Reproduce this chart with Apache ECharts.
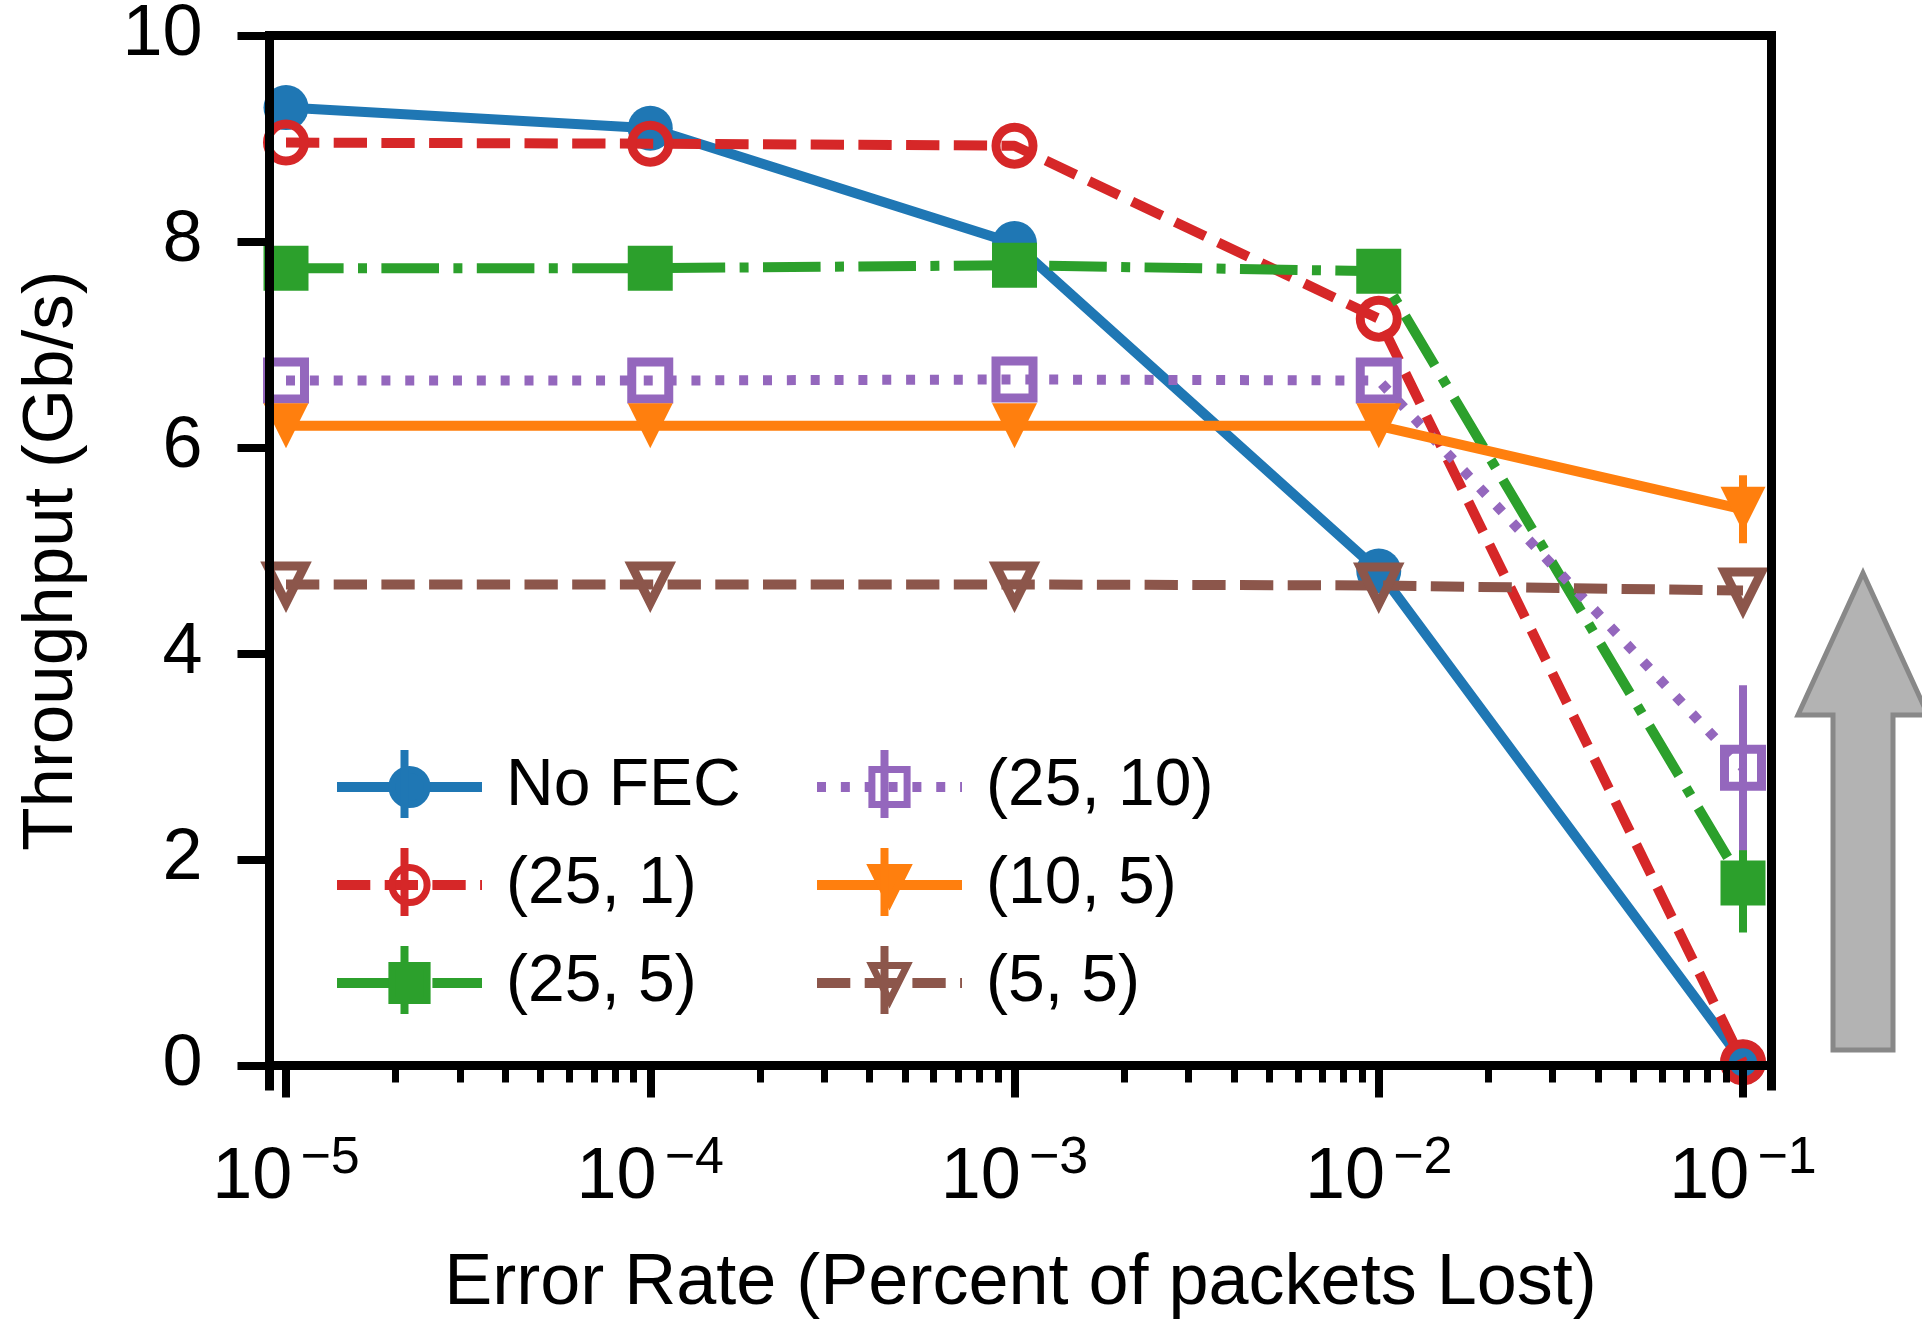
<!DOCTYPE html>
<html><head><meta charset="utf-8">
<script src="https://cdn.jsdelivr.net/npm/echarts@6/dist/echarts.min.js"></script>
<style>html,body{margin:0;padding:0;background:#fff;}#c{width:1922px;height:1321px;}</style>
</head><body><div id="c"></div>
<script>
// ---- data ----
const errorRates = [1e-5, 1e-4, 1e-3, 1e-2, 1e-1];
const seriesNames = ['No FEC', '(25, 1)', '(25, 5)', '(25, 10)', '(10, 5)', '(5, 5)'];
const noFEC   = [9.30, 9.10, 7.98, 4.80, 0.03];
const fec25_1 = [8.96, 8.95, 8.93, 7.25, 0.03];
const fec25_5 = [7.74, 7.74, 7.77, 7.71, 1.77];
const fec25_10 = [6.65, 6.65, 6.66, 6.65, 2.89];
const fec10_5 = [6.21, 6.21, 6.21, 6.21, 5.40];
const fec5_5  = [4.67, 4.67, 4.67, 4.66, 4.61];
// half-width of error bars
const errNoFEC   = [0, 0, 0, 0, 0];
const err25_1    = [0, 0, 0, 0, 0];
const err25_5    = [0, 0, 0, 0, 0.48];
const err25_10   = [0, 0, 0, 0, 0.80];
const err10_5    = [0, 0, 0, 0, 0.33];
const err5_5     = [0, 0, 0, 0, 0];
const xTickValues = [1e-5, 1e-4, 1e-3, 1e-2, 1e-1];
const yTickValues = [0, 2, 4, 6, 8, 10];
const xAxisTitle = 'Error Rate (Percent of packets Lost)';
const yAxisTitle = 'Throughput (Gb/s)';

// ---- styles ----
const FONT = '"Liberation Sans", Arial, Helvetica, sans-serif';
const values = [noFEC, fec25_1, fec25_5, fec25_10, fec10_5, fec5_5];
const errors = [errNoFEC, err25_1, err25_5, err25_10, err10_5, err5_5];
const colors = ['#1f77b4', '#d62728', '#2ca02c', '#9467bd', '#ff7f0e', '#8c564b'];
const LW = 10;
const dashes = ['solid', [33.3, 14.4], [57.6, 14.4, 9, 14.4], [9, 14.85], 'solid', [33.3, 14.4]];
const triDown = 'path://M0,0 L2,0 L1,2 Z';
const symbols = ['circle', 'circle', 'rect', 'rect', triDown, triDown];
const filled = [true, false, true, false, true, false];

const xMin = Math.pow(10, -5.0453), xMax = Math.pow(10, -0.92176);
const minorTicks = [];
for (let k = -6; k <= -1; k++) for (let m = 2; m <= 9; m++) {
  const v = m * Math.pow(10, k);
  if (v >= xMin && v <= xMax) minorTicks.push(v);
}

const series = [];
values.forEach((vals, i) => {
  const c = colors[i];
  series.push({
    type: 'custom', name: seriesNames[i] + ' err', z: 10 + i, silent: true,
    data: errorRates.map((x, j) => [x, vals[j] - errors[i][j], vals[j] + errors[i][j]]),
    encode: { x: 0, y: [1, 2] },
    renderItem: (params, api) => {
      const lo = api.value(1), hi = api.value(2);
      if (hi - lo <= 0) return null;
      const p1 = api.coord([api.value(0), lo]);
      const p2 = api.coord([api.value(0), hi]);
      return { type: 'line', shape: { x1: p1[0], y1: p1[1], x2: p2[0], y2: p2[1] },
               style: { stroke: c, lineWidth: 8 } };
    }
  });
  series.push({
    type: 'line', name: seriesNames[i], z: 10 + i,
    data: errorRates.map((x, j) => [x, vals[j]]),
    symbol: symbols[i],
    symbolSize: filled[i] ? 45 : 37,
    showAllSymbol: true,
    lineStyle: { color: c, width: LW, type: dashes[i] },
    itemStyle: filled[i] ? { color: c, borderColor: c, borderWidth: 0 }
                         : { color: 'rgba(255,255,255,0)', borderColor: c, borderWidth: 9 },
    emphasis: { disabled: true },
    clip: true
  });
});

const legendCommon = {
  orient: 'vertical', itemWidth: 145, itemHeight: 44, itemGap: 32, padding: 0,
  selectedMode: false, z: 60,
  textStyle: { fontSize: 66, fontFamily: FONT, color: '#000', padding: [0, 0, 0, 19] },
  itemStyle: { borderWidth: 7 },
  lineStyle: { width: LW }
};
const legendRows = [784, 882, 980];
const legendCols = [404.5, 884.5];
const legendBars = [];
seriesNames.forEach((n, i) => {
  const cx = legendCols[Math.floor(i / 3)], cy = legendRows[i % 3];
  legendBars.push({ type: 'line', z: 70, shape: { x1: cx, y1: cy - 34, x2: cx, y2: cy + 34 },
                    style: { stroke: colors[i], lineWidth: 8 } });
});

const spine = { show: true, lineStyle: { color: '#000', width: 9, cap: 'square' } };
const option = {
  animation: false,
  backgroundColor: '#fff',
  grid: { left: 269.5, top: 35.5, width: 1502, height: 1050.5, containLabel: false, outerBoundsMode: 'none' },
  xAxis: [
    { type: 'log', min: xMin, max: xMax, position: 'bottom', z: 50,
      axisLine: spine,
      axisTick: { show: true, customValues: xTickValues, length: 32, lineStyle: { color: '#000', width: 8 } },
      minorTick: { show: false }, splitLine: { show: false },
      axisLabel: { show: true, customValues: xTickValues, margin: 56,
        formatter: v => '{b|10}{s|\u2212' + Math.round(-Math.log10(v)) + '}',
        rich: {
          b: { fontSize: 72, lineHeight: 72, verticalAlign: 'bottom', fontFamily: FONT, color: '#000' },
          s: { fontSize: 52, lineHeight: 52, verticalAlign: 'bottom', fontFamily: FONT, color: '#000', padding: [0, 0, 29.5, 8] }
        } },
      name: xAxisTitle, nameLocation: 'middle', nameGap: 162,
      nameTextStyle: { fontSize: 72, lineHeight: 72, fontFamily: FONT, color: '#000' } },
    { type: 'log', min: xMin, max: xMax, position: 'bottom', z: 50,
      axisLine: { show: false },
      axisTick: { show: true, customValues: minorTicks, length: 17, lineStyle: { color: '#000', width: 7 } },
      axisLabel: { show: false }, splitLine: { show: false }, minorTick: { show: false } },
    { type: 'log', min: xMin, max: xMax, position: 'top', z: 50,
      axisLine: spine, axisTick: { show: false }, axisLabel: { show: false }, splitLine: { show: false } }
  ],
  yAxis: [
    { type: 'value', min: -0.2, max: 10, position: 'left', z: 50,
      axisLine: spine,
      axisTick: { show: true, customValues: yTickValues, length: 32, lineStyle: { color: '#000', width: 8 } },
      axisLabel: { show: true, customValues: yTickValues, margin: 67, fontSize: 72, fontFamily: FONT, color: '#000' },
      splitLine: { show: false },
      name: yAxisTitle, nameLocation: 'middle', nameGap: 182, nameRotate: 90,
      nameTextStyle: { fontSize: 71, lineHeight: 71, fontFamily: FONT, color: '#000' } },
    { type: 'value', min: -0.2, max: 10, position: 'right', z: 50,
      axisLine: spine, axisTick: { show: false }, axisLabel: { show: false }, splitLine: { show: false } }
  ],
  legend: [
    Object.assign({}, legendCommon, { data: seriesNames.slice(0, 3), left: 332, top: 754 }),
    Object.assign({}, legendCommon, { data: seriesNames.slice(3, 6), left: 812, top: 754 })
  ],
  graphic: [
    ...legendBars,
    { type: 'polygon', z: 80,
      shape: { points: [[1863, 573], [1928, 715], [1893, 715], [1893, 1050], [1833, 1050], [1833, 715], [1798, 715]] },
      style: { fill: '#b3b3b3', stroke: '#888888', lineWidth: 5, lineJoin: 'miter' } }
  ],
  series: series
};
const chart = echarts.init(document.getElementById('c'), null, { renderer: 'canvas' });
chart.setOption(option);
</script></body></html>
